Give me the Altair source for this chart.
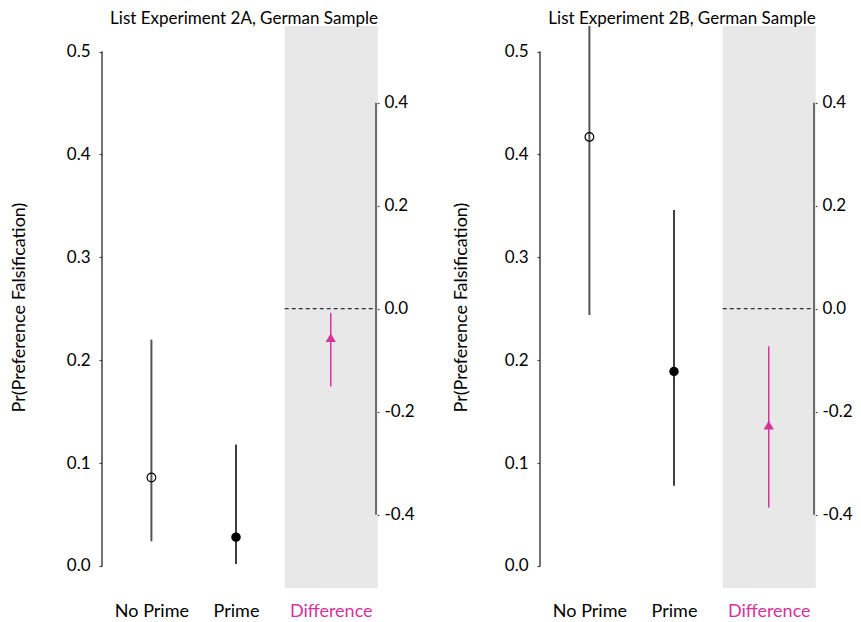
import altair as alt
import pandas as pd

# ---------------- data ----------------
categories = ["No Prime", "Prime", "Difference"]
panel_titles = ["List Experiment 2A, German Sample", "List Experiment 2B, German Sample"]

est_2a = [0.086, 0.028, -0.056]
lo_2a = [0.024, 0.002, -0.151]
hi_2a = [0.220, 0.118, -0.008]

est_2b = [0.417, 0.189, -0.226]
lo_2b = [0.244, 0.078, -0.386]
hi_2b = [0.550, 0.346, -0.073]

left_ticks = [0.0, 0.1, 0.2, 0.3, 0.4, 0.5]
right_ticks = [-0.4, -0.2, 0.0, 0.2, 0.4]
y_title = "Pr(Preference Falsification)"

# ---------------- layout / style ----------------
X_POS = {"No Prime": 1.0, "Prime": 2.0, "Difference": 3.12}
X_DOMAIN = [0.416, 3.655]
BAND = [2.576, 3.676]
LEFT_DOMAIN = [-0.0214, 0.5248]
RIGHT_DOMAIN = [-0.5423, 0.549]
W, H = 274, 562
MAG = "#d6339b"
FONT = "Lato"

label_expr = " : ".join(
    [f"datum.value < {X_POS[c] + 0.5} ? '{c}'" for c in categories[:-1]]
) + f" : '{categories[-1]}'"

x_axis = alt.Axis(
    values=[X_POS[c] for c in categories],
    labelExpr=label_expr,
    labelColor={"condition": {"test": f"datum.value > {X_POS['Prime'] + 0.5}", "value": MAG}, "value": "black"},
    labelFont=FONT, labelFontSize=18, labelPadding=14,
    ticks=False, tickSize=0, domain=False, grid=False, title=None,
)
x_scale = alt.Scale(domain=X_DOMAIN, nice=False, zero=False)

l_scale = alt.Scale(domain=LEFT_DOMAIN, nice=False, zero=False)
r_scale = alt.Scale(domain=RIGHT_DOMAIN, nice=False, zero=False)


def make_l_axis(title_pad):
    return alt.Axis(
        orient="left", title=y_title, values=left_ticks, format=".1f",
        domain=False, grid=False, tickSize=3, tickColor="#444", tickWidth=1.2,
        labelPadding=9, labelFont=FONT, labelFontSize=17, labelColor="black",
        titleFont=FONT, titleFontSize=18, titleFontWeight="normal", titleColor="black",
        titlePadding=title_pad,
    )


r_axis = alt.Axis(
    orient="right", title=None, values=right_ticks,
    labelExpr="replace(format(datum.value, '.1f'), '\u2212', '-')",
    domain=False, grid=False, tickSize=3, tickColor="#444", tickWidth=1.2,
    labelPadding=5, labelFont=FONT, labelFontSize=17, labelColor="black",
)


def xenc():
    return alt.X("x:Q", scale=x_scale, axis=x_axis)


def panel(title, est, lo, hi, title_pad):
    l_axis = make_l_axis(title_pad)
    df = pd.DataFrame({
        "cat": categories,
        "x": [X_POS[c] for c in categories],
        "est": est, "lo": lo, "hi": hi,
    })
    base = alt.Chart(df)

    band = alt.Chart(pd.DataFrame({"x": [BAND[0]], "x2": [BAND[1]]})).mark_rect(
        color="#e8e8e8"
    ).encode(x=xenc(), x2="x2:Q", y=alt.value(0), y2=alt.value(H))

    l_line = alt.Chart(pd.DataFrame({"y": [min(left_ticks)], "y2": [max(left_ticks)]})).mark_rule(
        color="#444", strokeWidth=1.5
    ).encode(x=alt.value(0), y=alt.Y("y:Q", scale=l_scale, axis=l_axis), y2="y2:Q")

    ci_np = base.transform_filter(alt.datum.cat == "No Prime").mark_rule(
        color="#555", strokeWidth=2, clip=True
    ).encode(x=xenc(), y=alt.Y("lo:Q", scale=l_scale, axis=l_axis), y2="hi:Q")
    ci_p = base.transform_filter(alt.datum.cat == "Prime").mark_rule(
        color="black", strokeWidth=1.5, clip=True
    ).encode(x=xenc(), y=alt.Y("lo:Q", scale=l_scale, axis=l_axis), y2="hi:Q")
    pt_np = base.transform_filter(alt.datum.cat == "No Prime").mark_point(
        shape="circle", filled=False, color="black", size=75, strokeWidth=1.2, opacity=1
    ).encode(x=xenc(), y=alt.Y("est:Q", scale=l_scale, axis=l_axis))
    pt_p = base.transform_filter(alt.datum.cat == "Prime").mark_point(
        shape="circle", filled=True, color="black", size=90, opacity=1
    ).encode(x=xenc(), y=alt.Y("est:Q", scale=l_scale, axis=l_axis))

    left_group = alt.layer(band, l_line, ci_np, ci_p, pt_np, pt_p)

    zero = alt.Chart(pd.DataFrame({"x": [BAND[0]], "y": [0.0]})).mark_rule(
        color="black", strokeWidth=1, strokeDash=[4, 3]
    ).encode(x=xenc(), x2=alt.value(W), y=alt.Y("y:Q", scale=r_scale, axis=r_axis))
    r_line = alt.Chart(pd.DataFrame({"y": [min(right_ticks)], "y2": [max(right_ticks)]})).mark_rule(
        color="#444", strokeWidth=1.5
    ).encode(x=alt.value(W), y=alt.Y("y:Q", scale=r_scale, axis=r_axis), y2="y2:Q")
    ci_d = base.transform_filter(alt.datum.cat == "Difference").mark_rule(
        color=MAG, strokeWidth=1.5, clip=True
    ).encode(x=xenc(), y=alt.Y("lo:Q", scale=r_scale, axis=r_axis), y2="hi:Q")
    pt_d = base.transform_filter(alt.datum.cat == "Difference").mark_point(
        shape="triangle-up", filled=True, color=MAG, size=105, opacity=1
    ).encode(x=xenc(), y=alt.Y("est:Q", scale=r_scale, axis=r_axis))

    right_group = alt.layer(zero, r_line, ci_d, pt_d)

    return alt.layer(left_group, right_group).resolve_scale(y="independent").properties(
        width=W, height=H,
        title=alt.TitleParams(
            text=title, font=FONT, fontSize=17, fontWeight="normal", color="black",
            anchor="middle", frame="group", offset=-1, dx=5, dy=1,
        ),
    )


chart = alt.hconcat(
    panel(panel_titles[0], est_2a, lo_2a, hi_2a, 38),
    panel(panel_titles[1], est_2b, lo_2b, hi_2b, 34),
    spacing=37,
).properties(
    padding={"left": 2, "top": 2, "right": 0, "bottom": 0},
    background="white",
).configure_view(stroke=None)

chart.save("out.html", embed_options={"renderer": "svg", "actions": False})
